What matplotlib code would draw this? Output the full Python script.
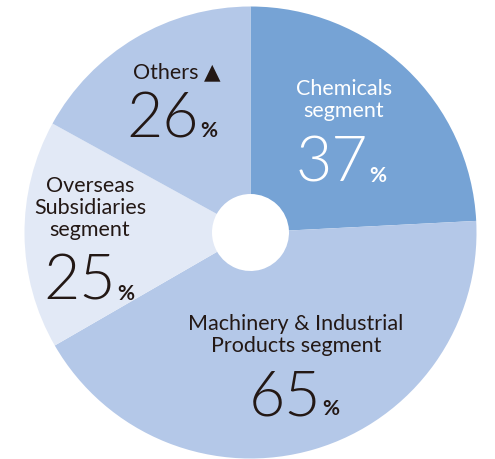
"""Segment share donut chart (Chemicals / Machinery / Overseas / Others)"""

import matplotlib
matplotlib.use("Agg")
import matplotlib.pyplot as plt

# data
segments = ["Chemicals\nsegment",
            "Machinery & Industrial\nProducts segment",
            "Overseas\nSubsidiaries\nsegment",
            "Others \u25b2"]
shares = [37, 65, 25, 26]
colors = ["#76a3d5", "#b4c8e8", "#e2e9f6", "#b4c8e8"]
text_colors = ["white", "#231815", "#231815", "#231815"]

# layout (pixels in the 495x459 picture): label centre, number baseline
W, H = 495, 459
CX, CY, R = 250.5, 232.5, 226.0
label_pos = [(344, 100), (296, 335), (90, 208), (177, 72)]
num_pos = [(368, 182), (321, 415), (116, 300), (199, 137)]


def to_data(px, py):
    return (px - CX) / R, (CY - py) / R


def main():
    plt.rcParams["font.family"] = ["Lato", "DejaVu Sans"]

    fig = plt.figure(figsize=(W / 100, H / 100), dpi=100)
    ax = fig.add_axes([(CX - R) / W, (H - CY - R) / H, 2 * R / W, 2 * R / H])

    ax.pie(shares, colors=colors, startangle=90, counterclock=False,
           radius=1.0, wedgeprops=dict(width=1 - 38.5 / R, linewidth=0))
    ax.set_xlim(-1, 1)
    ax.set_ylim(-1, 1)
    ax.set_aspect("equal")
    ax.axis("off")

    for name, val, tc, lp, npos in zip(segments, shares, text_colors, label_pos, num_pos):
        lx, ly = to_data(*lp)
        ax.text(lx, ly, name, ha="center", va="center", fontsize=15.5,
                color=tc, linespacing=1.15)
        nx, ny = to_data(*npos)
        ax.text(nx, ny, str(val), ha="right", va="baseline", fontsize=45,
                color=tc, fontweight=300)
        ax.text(nx + 1 / R, ny, "%", ha="left", va="baseline", fontsize=15,
                color=tc, fontweight="bold")

    fig.savefig("out.png", dpi=100)
    plt.close(fig)


if __name__ == "__main__":
    main()
